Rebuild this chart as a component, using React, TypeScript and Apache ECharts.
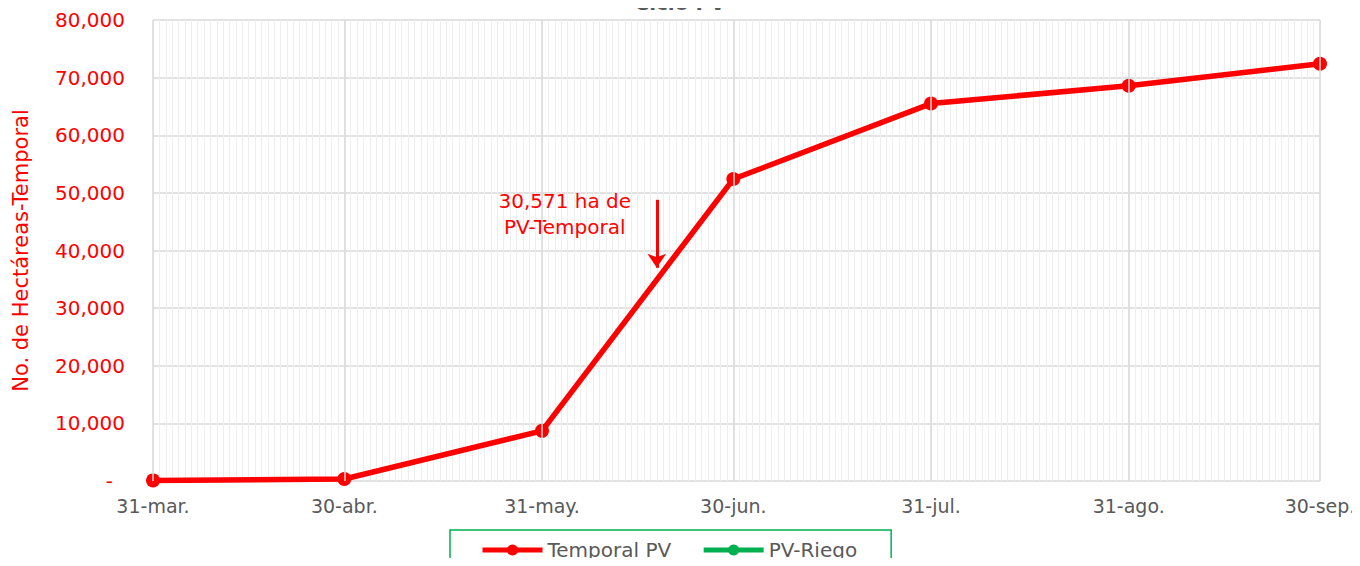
import React, { useEffect, useRef } from "react";
import * as echarts from "echarts";

const dateLabels = ["31-mar.", "30-abr.", "31-may.", "30-jun.", "31-jul.", "31-ago.", "30-sep."];
const dayOffsets = [0, 30, 61, 91, 122, 153, 183];
const temporalPV = [100, 350, 8700, 52400, 65500, 68600, 72400];
const riegoPV: (number | null)[] = [];
const yTicks = [0, 10000, 20000, 30000, 40000, 50000, 60000, 70000, 80000];
const annotationDay = 79;
const annotationFrom = 48800;
const annotationTo = 37000;
const annotationText = "30,571 ha de\nPV-Temporal";

const FONT = "DejaVu Sans";

export default function App() {
  const ref = useRef<HTMLDivElement>(null);
  useEffect(() => {
    if (!ref.current) return;
    const chart = echarts.init(ref.current, null, { renderer: "svg" });
    const fmt = (v: number) => v.toLocaleString("en-US");
    chart.setOption({
      animation: false,
      backgroundColor: "#ffffff",
      title: {
        text: "Ciclo PV",
        left: "center",
        top: -12,
        textStyle: { color: "#595959", fontFamily: FONT, fontSize: 20, fontWeight: "bold" },
      },
      grid: { left: 153, right: 40, top: 20, bottom: 85 },
      legend: {
        left: 450,
        top: 530,
        data: ["Temporal PV", "PV-Riego"],
        borderColor: "#00b050",
        borderWidth: 1.5,
        padding: [10, 34, 20, 30],
        itemWidth: 60,
        itemHeight: 14,
        itemGap: 30,
        lineStyle: { width: 5 },
        textStyle: { color: "#595959", fontFamily: FONT, fontSize: 20 },
      },
      xAxis: {
        type: "value",
        min: dayOffsets[0],
        max: dayOffsets[dayOffsets.length - 1],
        interval: 1,
        axisLine: { show: false },
        axisTick: { show: false },
        splitLine: { show: true, lineStyle: { color: "#eeeeee", width: 1 } },
        axisLabel: {
          customValues: dayOffsets,
          formatter: (v: number) => dateLabels[dayOffsets.indexOf(v)] ?? "",
          color: "#595959",
          fontFamily: FONT,
          fontSize: 19,
          margin: 15,
          hideOverlap: false,
        },
      },
      yAxis: {
        type: "value",
        min: yTicks[0],
        max: yTicks[yTicks.length - 1],
        interval: 10000,
        name: "No. de Hectáreas-Temporal",
        nameLocation: "middle",
        nameGap: 122,
        nameTextStyle: { color: "#ff0000", fontFamily: FONT, fontSize: 21 },
        axisLine: { show: false },
        axisTick: { show: false },
        splitLine: { lineStyle: { color: "#d9d9d9", width: 1.5 } },
        axisLabel: {
          color: "#ff0000",
          fontFamily: FONT,
          fontSize: 20,
          margin: 28,
          formatter: (v: number) => (v === 0 ? "{z|-}" : fmt(v)),
          rich: { z: { color: "#ff0000", fontFamily: FONT, fontSize: 20, padding: [0, 12, 0, 0] } },
        },
      },
      series: [
        {
          name: "gridMajor",
          type: "line",
          data: [],
          z: 1,
          silent: true,
          markLine: {
            silent: true,
            symbol: "none",
            label: { show: false },
            lineStyle: { color: "#d9d9d9", width: 1.5, type: "solid" },
            data: dayOffsets.map((d) => ({ xAxis: d })),
          },
        },
        {
          name: "Temporal PV",
          type: "line",
          z: 3,
          data: dayOffsets.map((d, i) => [d, temporalPV[i]]),
          lineStyle: { color: "#ff0000", width: 5.5 },
          itemStyle: { color: "#ff0000" },
          symbol: "circle",
          symbolSize: 14,
          markLine: {
            silent: true,
            label: { show: false },
            symbol: ["none", "arrow"],
            symbolSize: 14,
            lineStyle: { color: "#ff0000", width: 3, type: "solid" },
            data: [[{ coord: [annotationDay, annotationFrom] }, { coord: [annotationDay, annotationTo] }]],
          },
        },
        {
          name: "PV-Riego",
          type: "line",
          data: riegoPV,
          lineStyle: { color: "#00b050", width: 5.5 },
          itemStyle: { color: "#00b050" },
          symbol: "circle",
          symbolSize: 14,
        },
      ],
    });
    const p = chart.convertToPixel({ gridIndex: 0 }, [annotationDay, annotationFrom]) as number[];
    chart.setOption({
      graphic: [
        {
          type: "text",
          x: p[0] - 92,
          y: p[1] - 12,
          style: {
            text: annotationText,
            fill: "#ff0000",
            font: `20px "${FONT}"`,
            textAlign: "center",
            lineHeight: 26,
          },
        },
      ],
    });
    return () => chart.dispose();
  }, []);
  return <div ref={ref} style={{ width: 1360, height: 566, margin: -8 }} />;
}
